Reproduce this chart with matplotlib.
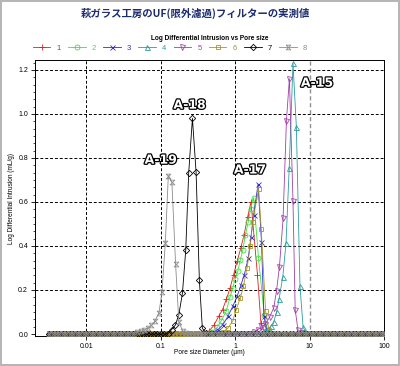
import numpy as np
import matplotlib.pyplot as plt
import matplotlib.patheffects as pe
from matplotlib.patches import Rectangle
from matplotlib.ticker import FixedLocator, NullLocator, AutoMinorLocator

""" data read off the chart: pore size (um) / log differential intrusion (mL/g) """
# shared measurement grid for the flat (zero) part of every curve
base_d = np.logspace(-2.5, 2, 97)

# 1  (A-17, red +)
d1 = [0.386, 0.45, 0.52, 0.599, 0.677, 0.766, 0.858, 0.955, 1.063, 1.191, 1.318, 1.468, 1.634, 1.995, 2.22, 2.47]
v1 = [0.005, 0.015, 0.04, 0.08, 0.11, 0.16, 0.21, 0.27, 0.33, 0.39, 0.45, 0.53, 0.60, 0.27, 0.05, 0.01]
# 2  (A-17, green o)
d2 = [0.479, 0.575, 0.651, 0.759, 0.858, 0.932, 1.0, 1.086, 1.177, 1.267, 1.372, 1.503, 1.61, 1.775, 2.06, 2.46, 2.71, 3.02]
v2 = [0.01, 0.03, 0.06, 0.103, 0.17, 0.21, 0.25, 0.285, 0.338, 0.38, 0.45, 0.51, 0.57, 0.62, 0.345, 0.088, 0.02, 0.005]
# 3  (A-17, blue x)
d3 = [0.509, 0.588, 0.685, 0.80, 0.932, 1.063, 1.202, 1.33, 1.50, 1.63, 1.775, 2.03, 2.26, 2.44, 2.67, 2.93]
v3 = [0.01, 0.02, 0.042, 0.08, 0.126, 0.171, 0.224, 0.27, 0.345, 0.44, 0.54, 0.68, 0.42, 0.08, 0.015, 0.003]
# 4  (A-15, teal ^)
d4 = [2.44, 2.71, 3.02, 3.31, 3.60, 3.90, 4.37, 4.83, 5.33, 5.99, 6.65, 7.43, 8.19, 9.12]
v4 = [0.01, 0.02, 0.035, 0.056, 0.10, 0.16, 0.26, 0.415, 0.755, 1.23, 0.94, 0.22, 0.03, 0.005]
# 5  (A-15, purple v)
d5 = [1.79, 2.01, 2.24, 2.54, 2.90, 3.31, 3.60, 3.94, 4.41, 4.89, 5.36, 5.99, 6.41, 6.98, 7.82]
v5 = [0.01, 0.02, 0.03, 0.045, 0.076, 0.12, 0.197, 0.306, 0.525, 0.97, 1.16, 0.605, 0.11, 0.02, 0.005]
# 6  (A-17, olive square)
d6 = [0.692, 0.80, 0.932, 1.03, 1.177, 1.29, 1.445, 1.60, 1.72, 2.07, 2.24, 2.57, 2.84, 3.11]
v6 = [0.01, 0.027, 0.06, 0.11, 0.164, 0.216, 0.30, 0.40, 0.51, 0.66, 0.478, 0.103, 0.02, 0.005]
# 7  (A-18, black diamond)
d7 = [0.140, 0.157, 0.175, 0.196, 0.217, 0.238, 0.267, 0.299, 0.331, 0.363, 0.404]
v7 = [0.02, 0.04, 0.086, 0.185, 0.38, 0.733, 0.98, 0.736, 0.244, 0.026, 0.005]
# 8  (A-19, grey hourglass)
d8 = [0.0479, 0.0541, 0.0603, 0.0671, 0.0752, 0.0839, 0.0949, 0.104, 0.1155, 0.1267, 0.1415, 0.1585, 0.1754, 0.1965, 0.2188]
v8 = [0.008, 0.012, 0.018, 0.026, 0.04, 0.06, 0.097, 0.19, 0.415, 0.72, 0.69, 0.32, 0.055, 0.015, 0.004]

labels = ['1', '2', '3', '4', '5', '6', '7', '8']
peak_tags = ['A-19', 'A-18', 'A-17', 'A-15']
tag_pos = [(0.1, 0.79), (0.244, 1.04), (1.585, 0.745), (12.6, 1.14)]

""" styles """
hourglass = [(-1, 1), (1, 1), (-1, -1), (1, -1), (-1, 1)]
colors = ['#e02020', '#3ee03e', '#3030c8', '#2a9c9c', '#a040a8', '#a89428', '#000000', '#8c8c8c']
markers = ['+', 'o', 'x', '^', 'v', 's', 'D', hourglass]
msizes = [4.5, 3.6, 3.6, 3.6, 3.6, 3.4, 3.2, 3.4]


def full_curve(d, v):
    d = np.asarray(d)
    left = base_d[base_d < d.min() * 0.96]
    right = base_d[base_d > d.max() * 1.04]
    x = np.concatenate([left, d, right])
    y = np.concatenate([np.zeros(len(left)), v, np.zeros(len(right))])
    return x, y


fig = plt.figure(figsize=(4, 3.66), dpi=100)
ax = fig.add_axes([0.0875, 0.082, 0.8725, 0.754])
ax.set_xscale('log')
ax.set_xlim(0.00205, 100)
ax.set_ylim(-0.009, 1.245)

# grid
for xv in [0.01, 0.1, 1]:
    ax.axvline(xv, color='k', ls=(0, (3, 2)), lw=0.7, zorder=1)
ax.axvline(10, color='#909090', ls=(0, (3, 2)), lw=1.0, zorder=1)
for yv in [0.2, 0.4, 0.6, 0.8, 1.0, 1.2]:
    ax.axhline(yv, color='k', ls=(0, (3, 2)), lw=0.7, zorder=1)

series = [(d1, v1), (d2, v2), (d3, v3), (d4, v4), (d5, v5), (d6, v6), (d7, v7), (d8, v8)]
for i, (d, v) in enumerate(series):
    x, y = full_curve(d, v)
    ax.plot(x, y, color=colors[i], lw=0.6, marker=markers[i], ms=msizes[i],
            mfc='none', mec=colors[i], mew=0.6, label=labels[i], zorder=2 + i)

# peak tags
for t, (xx, yy) in zip(peak_tags, tag_pos):
    ax.text(xx, yy, t, ha='center', va='center', fontsize=9, fontweight='bold',
            family=['Liberation Sans Narrow', 'DejaVu Sans'], color='white', zorder=20,
            path_effects=[pe.Stroke(linewidth=1.8, foreground='black'), pe.Normal()])

# ticks
ax.xaxis.set_major_locator(FixedLocator([0.01, 0.1, 1, 10, 100]))
ax.xaxis.set_minor_locator(NullLocator())
ax.set_xticklabels(['0.01', '0.1', '1', '10', '100'])
ax.set_yticks([0.0, 0.2, 0.4, 0.6, 0.8, 1.0, 1.2])
ax.set_yticklabels(['0.0', '0.2', '0.4', '0.6', '0.8', '1.0', '1.2'])
ax.yaxis.set_minor_locator(AutoMinorLocator(6))
ax.tick_params(axis='both', which='major', labelsize=5, length=3, width=0.6, pad=2)
ax.tick_params(axis='y', which='minor', length=1.8, width=0.5)
for lab in ax.get_xticklabels() + ax.get_yticklabels():
    lab.set_family('Liberation Sans')
for s in ax.spines.values():
    s.set_linewidth(0.7)

# texts
fig.text(0.4875, 0.962, '萩ガラス工房のUF(限外濾過)フィルターの実測値', ha='center', va='center',
         fontsize=7.5, fontweight='bold', color='#1c2c70', family=['Noto Sans CJK JP', 'DejaVu Sans'])
fig.text(0.525, 0.896, 'Log Differential Intrusion vs Pore size', ha='center', va='center',
         fontsize=4.7, fontweight='bold', family='Liberation Sans')
fig.text(0.03, 0.459, 'Log Differential Intrusion (mL/g)', rotation=90, ha='center', va='center',
         fontsize=4.7, family='Liberation Sans')
fig.text(0.523, 0.038, 'Pore size Diameter (µm)', ha='center', va='center',
         fontsize=4.7, family='Liberation Sans')

leg = ax.legend(ncol=8, loc='center', bbox_to_anchor=(0.425, 0.869), bbox_transform=fig.transFigure,
                frameon=False, prop={'family': 'Liberation Sans', 'size': 5.5}, handlelength=2.3,
                handletextpad=0.8, columnspacing=0.95, labelcolor='linecolor')

fig.patches.append(Rectangle((0.003, 0.003), 0.994, 0.994, transform=fig.transFigure,
                             fill=False, ec='#b4b4b4', lw=1.4))

fig.savefig('out.png', dpi=100)
